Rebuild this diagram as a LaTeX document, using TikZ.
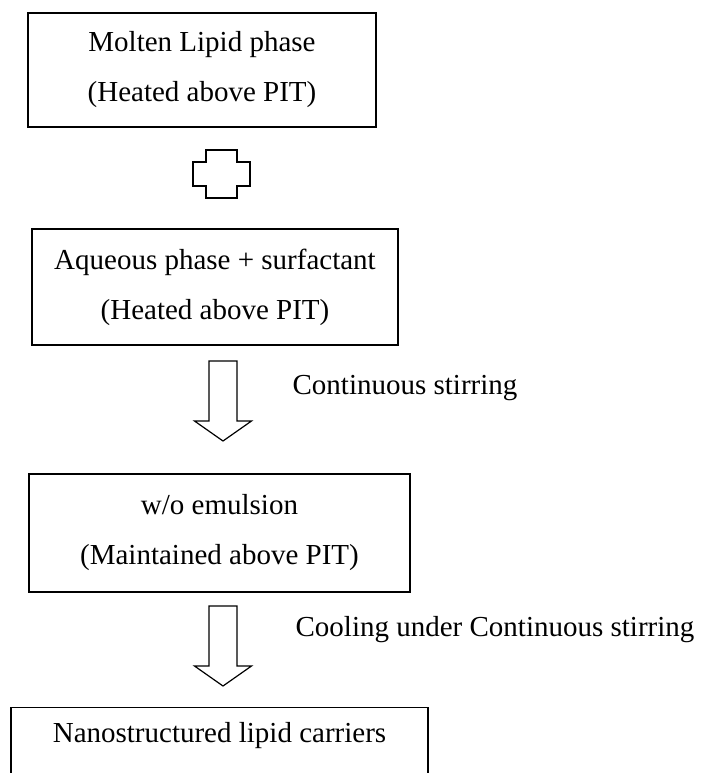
\documentclass[tikz,border=0pt]{standalone}
\usepackage{fontspec}
\setmainfont{Liberation Serif}

\begin{document}
\begin{tikzpicture}[x=0.5pt,y=-0.5pt,line width=0.6pt,font=\fontsize{14.5}{25}\selectfont,
  stagebox/.style={draw,align=center,inner sep=0pt},
  steplabel/.style={anchor=west,inner sep=0pt},
  blockarrow/.pic={\draw (-14,0) -- (14,0) -- (14,60) -- (28.5,60) -- (0,80) -- (-28.5,60) -- (-14,60) -- cycle;},
  plussign/.pic={\draw[line width=0.9pt] (-15.5,-24) -- (15.5,-24) -- (15.5,-12) -- (28.5,-12) -- (28.5,12) -- (15.5,12)
     -- (15.5,24) -- (-15.5,24) -- (-15.5,12) -- (-28.5,12) -- (-28.5,-12) -- (-15.5,-12) -- cycle;}]
 \useasboundingbox (0,0) rectangle (704,773);
 % phases
 \node[stagebox,minimum width=174pt,minimum height=57pt] (lipid) at (202,70) {Molten Lipid phase\\(Heated above PIT)};
 \pic at (221.5,174) {plussign};
 \node[stagebox,minimum width=183pt,minimum height=58pt] (aqueous) at (215,287) {Aqueous phase + surfactant\\(Heated above PIT)};
 \pic at (223,361) {blockarrow};
 \node[steplabel] (stir) at (292,388) {Continuous stirring};
 \node[stagebox,minimum width=190.5pt,minimum height=59pt] (emulsion) at (219.5,533) {w/o emulsion\\(Maintained above PIT)};
 \pic at (223,606) {blockarrow};
 \node[steplabel] (cool) at (295,630) {Cooling under Continuous stirring};
 % last box runs off the page
 \node[stagebox,minimum width=208.5pt,anchor=north,inner ysep=7.5pt,text height=10pt,text depth=40pt] (nlc) at (219.5,707) {Nanostructured lipid carriers};
\end{tikzpicture}
\end{document}
